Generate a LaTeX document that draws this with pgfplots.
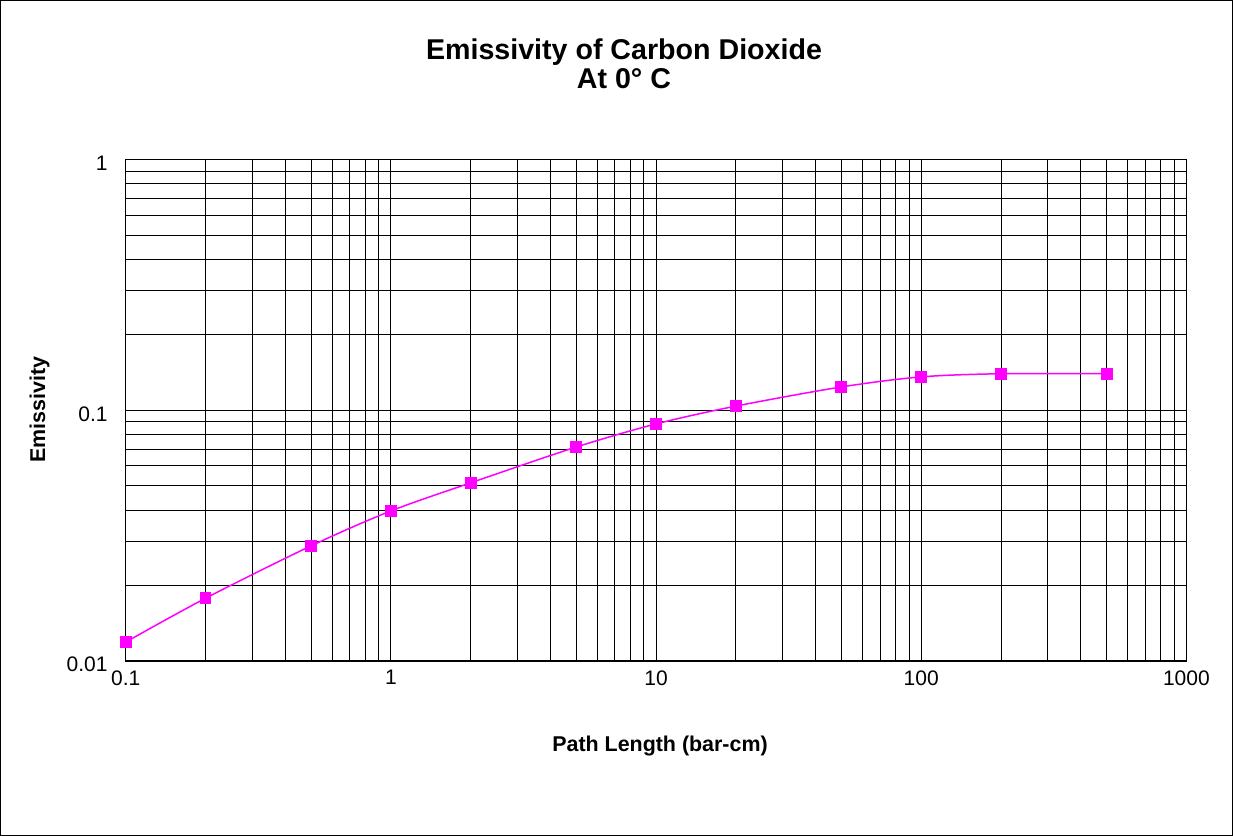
\documentclass[border=0pt]{standalone}
\usepackage{pgfplots}
\pgfplotsset{compat=1.18}
\usepackage{fontspec}
\setmainfont{Liberation Sans}
\definecolor{mag}{RGB}{255,0,255}
\begin{document}
\begin{tikzpicture}
\draw[black, line width=0.6pt] (-62.5pt,-87pt) rectangle (553pt,330pt);
\begin{axis}[
  at={(0pt,0pt)}, anchor=south west,
  scale only axis, width=530pt, height=250.5pt,
  xmode=log, ymode=log,
  xmin=0.1, xmax=1000, ymin=0.01, ymax=1,
  xtick={0.1,1,10,100,1000}, xticklabels={0.1,1,10,100,1000},
  ytick={0.01,0.1,1}, yticklabels={0.01,0.1,1},
  minor xtick={0.2,0.3,0.4,0.5,0.6,0.7,0.8,0.9,2,3,4,5,6,7,8,9,20,30,40,50,60,70,80,90,200,300,400,500,600,700,800,900},
  minor ytick={0.02,0.03,0.04,0.05,0.06,0.07,0.08,0.09,0.2,0.3,0.4,0.5,0.6,0.7,0.8,0.9},
  grid=both,
  major grid style={black, line width=0.5pt},
  minor grid style={black, line width=0.5pt},
  axis line style={black, line width=0.6pt},
  major tick length=0pt, minor tick length=0pt,
  ticklabel style={font=\fontsize{10.5}{12}\selectfont},
  xticklabel style={yshift=-1.2pt},
  yticklabel style={xshift=-5.5pt, yshift=-1.8pt},
  /pgf/number format/assume math mode=true,
  clip=false,
]
\addplot[mag, line width=0.75pt, smooth, mark=square*, mark size=2.6pt, mark options={solid, fill=mag, draw=mag}] coordinates {
(0.1,0.0119) (0.2,0.0178) (0.5,0.0288) (1,0.0397) (2,0.0514) (5,0.0714) (10,0.0883) (20,0.104) (50,0.124) (100,0.136) (200,0.140) (500,0.140)
};
\end{axis}
\node[font=\fontsize{14.3}{14.8}\selectfont\bfseries, align=center] at (249pt,298.5pt) {Emissivity of Carbon Dioxide\\At 0° C};
\node[font=\fontsize{10.7}{12}\selectfont\bfseries] at (267pt,-42.5pt) {Path Length (bar-cm)};
\node[font=\fontsize{10.7}{12}\selectfont\bfseries, rotate=90] at (-43pt,125.5pt) {Emissivity};
\end{tikzpicture}
\end{document}
